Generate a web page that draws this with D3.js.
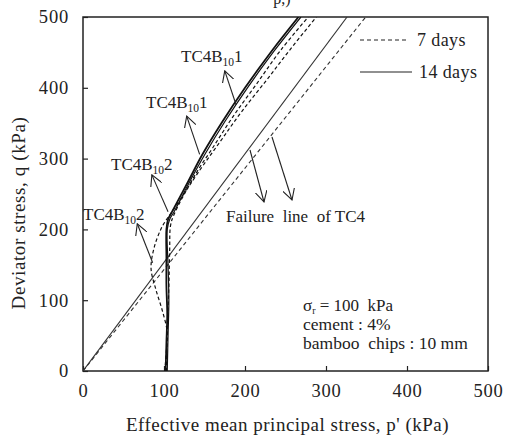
<!DOCTYPE html>
<html>
<head>
<meta charset="utf-8">
<script src="https://cdn.jsdelivr.net/npm/d3@7"></script>
<style>
  body { margin: 0; background: #fff; }
</style>
</head>
<body>
<div id="chart"></div>
<script>
// axis ticks
const xTicks = [0, 100, 200, 300, 400, 500];
const yTicks = [0, 100, 200, 300, 400, 500];

// stress paths [p', q] (kPa)
const path14a = [[102,0],[103,40],[104,80],[103,120],[103,160],[103,200],[105,214],[110,225],[130,268],[147,305],[172,352],[200,400],[233,452],[266,500]];
const path14b = [[104,0],[105,50],[106,100],[105,150],[104,200],[107,214],[113,226],[132,268],[150,305],[175,352],[203,400],[236,452],[269,500]];
const path7a = [[103,0],[104,60],[106,120],[107,170],[108,205],[112,220],[140,280],[160,315],[185,359],[214,405],[244,453],[278,500]];
const path7b = [[101,0],[103,30],[104,55],[98,85],[90,115],[84,145],[88,175],[96,200],[102,212],[110,225],[145,285],[170,325],[195,365],[226,410],[255,453],[288,500]];

// failure lines
const failure14 = [[0,0],[326,500]];
const failure7 = [[0,0],[349,500]];

const notes = ["cement : 4%", "bamboo  chips : 10 mm"];

const W = 506, H = 436;
const margin = { top: 17, right: 18, bottom: 65, left: 83 };
const serif = '"Liberation Serif"';

const svg = d3.select("#chart").append("svg")
    .attr("width", W).attr("height", H);

const x = d3.scaleLinear().domain([0, 500]).range([margin.left, W - margin.right]);
const y = d3.scaleLinear().domain([0, 500]).range([H - margin.bottom, margin.top]);

const defs = svg.append("defs");
defs.append("clipPath").attr("id", "plot-clip")
    .append("rect")
    .attr("x", x(0)).attr("y", y(500))
    .attr("width", x(500) - x(0)).attr("height", y(0) - y(500));

defs.append("marker")
    .attr("id", "arrow")
    .attr("viewBox", "0 0 12 12")
    .attr("refX", 11).attr("refY", 6)
    .attr("markerWidth", 12).attr("markerHeight", 12)
    .attr("markerUnits", "userSpaceOnUse")
    .attr("orient", "auto")
    .append("path")
    .attr("d", "M0,0 L11,6 L0,12")
    .attr("fill", "none")
    .attr("stroke", "#222")
    .attr("stroke-width", 1.1);

// axes (inner ticks)
const xAxis = svg.append("g")
    .attr("transform", `translate(0,${y(0)})`)
    .call(d3.axisBottom(x).tickValues(xTicks).tickSizeInner(-5).tickSizeOuter(0).tickPadding(13));
const yAxis = svg.append("g")
    .attr("transform", `translate(${x(0)},0)`)
    .call(d3.axisLeft(y).tickValues(yTicks).tickSizeInner(-5).tickSizeOuter(0).tickPadding(14));
[xAxis, yAxis].forEach(a => {
    a.select(".domain").remove();
    a.selectAll("text")
        .style("font-family", serif)
        .style("font-size", "18.5px")
        .style("letter-spacing", "0.8px")
        .attr("fill", "#222");
    a.selectAll("line").attr("stroke", "#222").attr("stroke-width", 1.2);
});
xAxis.selectAll("text").attr("dy", "0.71em");

// frame
svg.append("rect")
    .attr("x", x(0)).attr("y", y(500))
    .attr("width", x(500) - x(0)).attr("height", y(0) - y(500))
    .attr("fill", "none").attr("stroke", "#222").attr("stroke-width", 1.5);

const line = d3.line().x(d => x(d[0])).y(d => y(d[1])).curve(d3.curveCatmullRom.alpha(0.5));
const plot = svg.append("g").attr("clip-path", "url(#plot-clip)");

// failure lines
plot.append("path").datum(failure14).attr("d", line)
    .attr("fill", "none").attr("stroke", "#333").attr("stroke-width", 1.1);
plot.append("path").datum(failure7).attr("d", line)
    .attr("fill", "none").attr("stroke", "#333").attr("stroke-width", 1.1).attr("stroke-dasharray", "4,3");

// stress paths
[path7a, path7b].forEach(p => {
    plot.append("path").datum(p).attr("d", line)
        .attr("fill", "none").attr("stroke", "#111").attr("stroke-width", 1.2).attr("stroke-dasharray", "3.5,2.5");
});
[path14a, path14b].forEach((p, i) => {
    plot.append("path").datum(p).attr("d", line)
        .attr("fill", "none").attr("stroke", "#111").attr("stroke-width", i === 0 ? 1.8 : 1.2);
});

function txt(tx, ty, size, spacing) {
    return svg.append("text").attr("x", tx).attr("y", ty)
        .style("font-family", serif).style("font-size", size + "px")
        .style("letter-spacing", (spacing || 0) + "px")
        .attr("fill", "#222").attr("xml:space", "preserve");
}

// labels with subscripts
function tcLabel(tx, ty, last) {
    const t = txt(tx, ty, 17);
    t.append("tspan").text("TC4B");
    t.append("tspan").attr("dy", 4).style("font-size", "11.5px").text("10");
    t.append("tspan").attr("dy", -4).text(last);
}
function arrow(x1, y1, x2, y2) {
    svg.append("line")
        .attr("x1", x1).attr("y1", y1).attr("x2", x2).attr("y2", y2)
        .attr("stroke", "#222").attr("stroke-width", 1.1)
        .attr("marker-end", "url(#arrow)");
}

tcLabel(181, 62, "1");
arrow(x(189), y(376), x(175), y(424));
tcLabel(146, 108, "1");
arrow(x(144), y(306), x(128), y(360));
tcLabel(111, 170, "2");
arrow(x(105), y(225), x(85), y(277));
tcLabel(83, 220, "2");
arrow(x(86), y(153), x(67), y(208));

// failure line label
txt(226, 222, 17).text("Failure  line  of TC4");
arrow(250, 150, 264, 202);
arrow(272, 137, 292, 200);

// legend
svg.append("line").attr("x1", 360).attr("x2", 408).attr("y1", 40).attr("y2", 40)
    .attr("stroke", "#222").attr("stroke-width", 1.1).attr("stroke-dasharray", "4,3");
txt(417, 46, 18, 0.4).text("7 days");
svg.append("line").attr("x1", 360).attr("x2", 412).attr("y1", 72).attr("y2", 72)
    .attr("stroke", "#222").attr("stroke-width", 1.1);
txt(419, 78, 18, 0.4).text("14 days");

// condition notes
const s = txt(303, 311, 17);
s.append("tspan").text("σ");
s.append("tspan").attr("dy", 2.5).style("font-size", "10px").text("r");
s.append("tspan").attr("dy", -2.5).text(" = 100  kPa");
notes.forEach((n, i) => txt(303, 330 + i * 18.5, 17.5).text(n));

// axis titles
txt((x(0) + x(500)) / 2 + 2, 431, 19, 0.5).attr("text-anchor", "middle")
    .text("Effective mean principal stress, p' (kPa)");
svg.append("text")
    .attr("transform", `translate(25,${(y(0) + y(500)) / 2 + 19}) rotate(-90)`)
    .attr("text-anchor", "middle").attr("fill", "#222")
    .style("font-family", serif).style("font-size", "19px")
    .style("letter-spacing", "0.6px")
    .text("Deviator stress, q (kPa)");

// clipped caption fragment at very top
txt(282, 4, 16).attr("text-anchor", "middle").text("p,)");
</script>
</body>
</html>
